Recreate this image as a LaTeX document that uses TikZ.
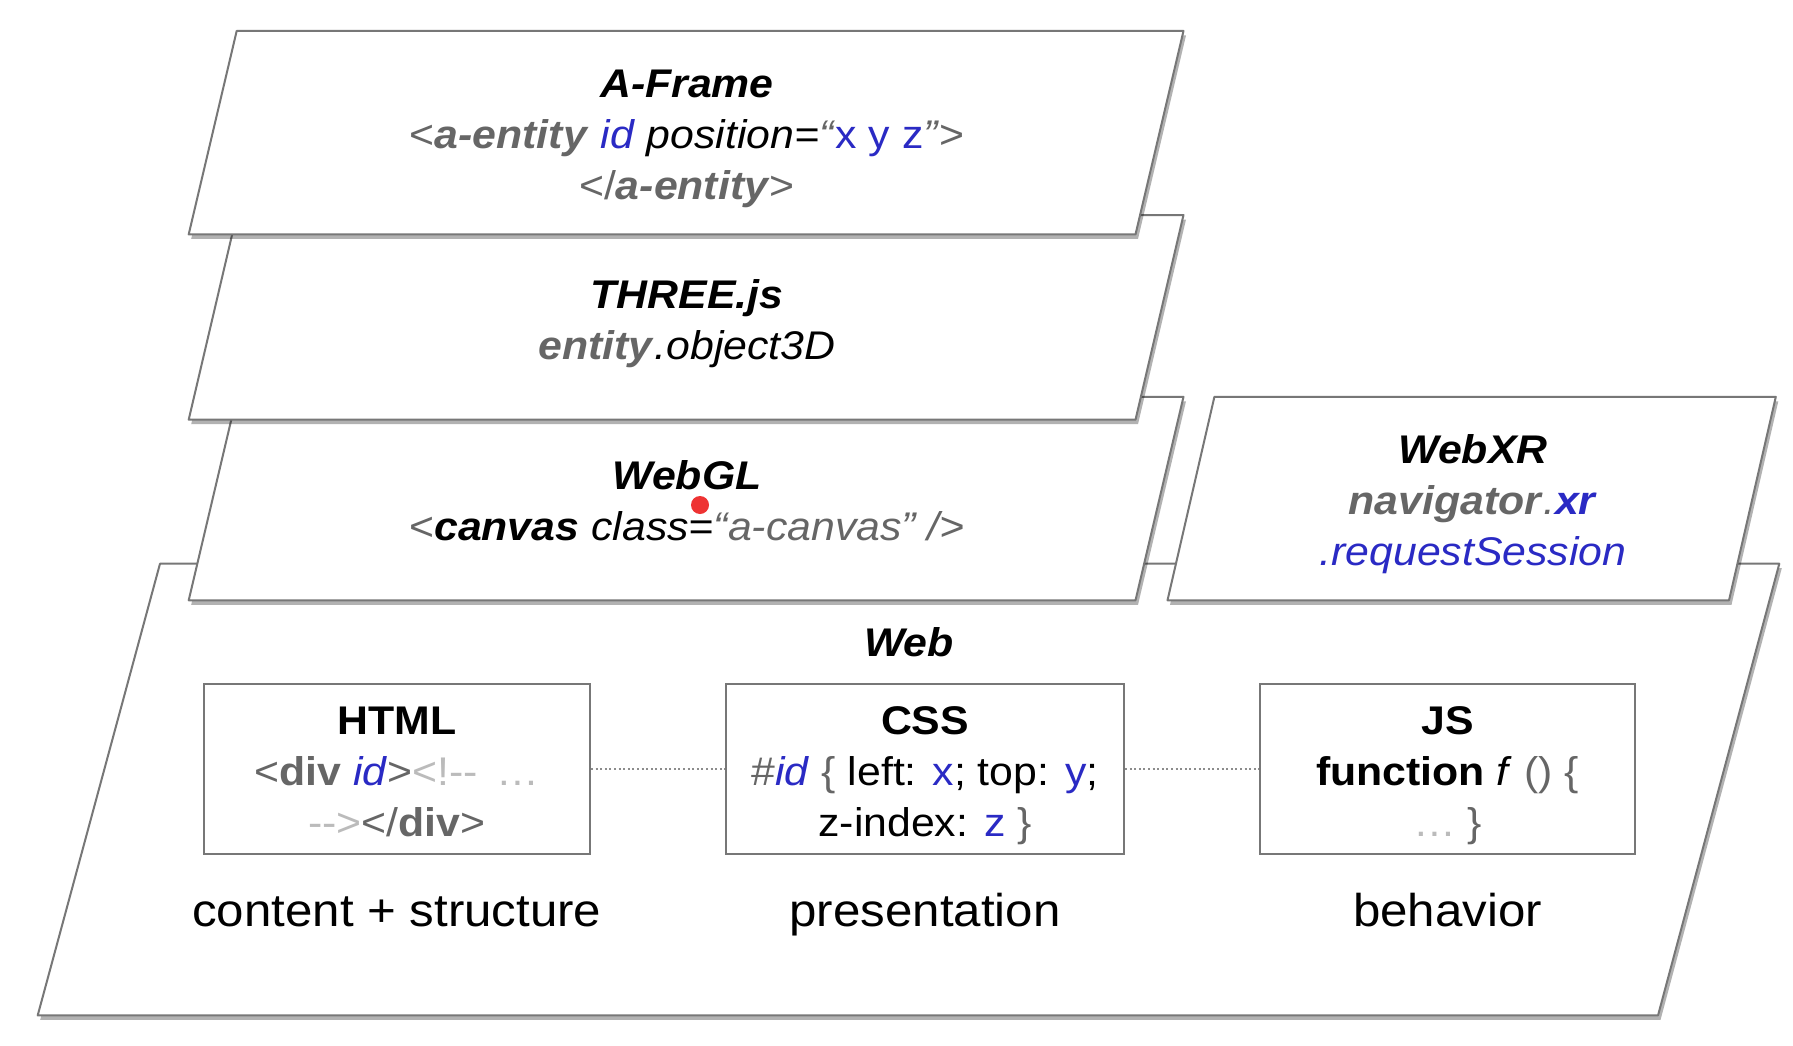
\documentclass[tikz,border=0pt]{standalone}
\usepackage{fontspec}
\setmainfont{Liberation Sans}[FakeStretch=1.07, Ligatures=TeXOff]
\usetikzlibrary{shadows}
\definecolor{tagg}{HTML}{666666}
\definecolor{comg}{HTML}{BBBBBB}
\definecolor{codeb}{HTML}{2A2AC4}
\definecolor{edgeg}{HTML}{777777}
\definecolor{dotred}{HTML}{EE3333}
\definecolor{linkg}{HTML}{8C8C8C}
\newcommand\tg[1]{\textcolor{tagg}{#1}}
\newcommand\cm[1]{\textcolor{comg}{#1}}
\newcommand\bl[1]{\textcolor{codeb}{#1}}
\newcommand\bi[1]{\textbf{\textit{#1}}}
\begin{document}
\begin{tikzpicture}[x=1pt,y=-1pt,
  layer/.style={draw=edgeg, line width=2pt, fill=white, line join=round,
    drop shadow={shadow xshift=2.5pt, shadow yshift=-4.5pt, opacity=0.3, fill=black}},
  codebox/.style={draw=edgeg, line width=2pt, fill=white, minimum height=170.4pt, inner sep=0pt},
  txt/.style={align=center, font=\fontsize{40}{51}\selectfont, inner sep=0pt},
  lbl/.style={font=\fontsize{46}{52}\selectfont, inner sep=0pt, anchor=base},
  link/.style={draw=linkg, line width=2.6pt, dash pattern=on 2pt off 2.6pt}
]
\useasboundingbox (0,0) rectangle (1793,1046);
\fill[white] (0,0) rectangle (1793,1046);

% Web layer
\path[layer] (160,563.7) -- (1779.3,563.7) -- (1658,1015.4) -- (37.7,1015.4) -- cycle;
% WebGL and WebXR
\path[layer] (236.7,396.8) -- (1183.5,396.8) -- (1135.5,600.3) -- (188.7,600.3) -- cycle;
\path[layer] (1214.4,396.8) -- (1775.8,396.8) -- (1729,600.3) -- (1167.5,600.3) -- cycle;
% THREE.js
\path[layer] (236.7,215) -- (1183.5,215) -- (1135.5,419.7) -- (188.7,419.7) -- cycle;
% A-Frame
\path[layer] (236.7,30.9) -- (1183.5,30.9) -- (1135.5,234.4) -- (188.7,234.4) -- cycle;

% layer texts
\node[txt] (aframe) at (687,138.4) {\bi{A-Frame}\\
  \tg{<\bi{a-entity}} \bl{\textit{id}} \textit{position=}\tg{\textit{“}}\bl{x y z}\tg{\textit{”}>}\\
  \tg{</\bi{a-entity}>}};
\node[txt] (three) at (687,323.6) {\bi{THREE.js}\\
  \tg{\bi{entity}}\textit{.object3D}};
\node[txt] (webgl) at (687,501) {\bi{WebGL}\\
  \tg{<}\bi{canvas} \textit{class=}\tg{\textit{“a-canvas” />}}};
\node[txt] (webxr) at (1473,504.2) {\bi{WebXR}\\
  \tg{\bi{navigator}\textit{.}}\bl{\bi{xr}}\\
  \bl{\textit{.requestSession}}};
\node[txt] (web) at (909,642.5) {\bi{Web}};

% code boxes
\node[codebox, minimum width=386.5pt] (html) at (396.8,769) {};
\node[codebox, minimum width=398pt] (css) at (925,769) {};
\node[codebox, minimum width=375pt] (js) at (1447.5,769) {};

\node[txt] (htmlt) at (396.8,772.4) {\textbf{HTML}\\
  \tg{<\textbf{div}} \bl{\textit{id}}\tg{>}\cm{<!-- \,…}\\
  \cm{-->}\tg{</\textbf{div}>}};
\node[txt] (csst) at (925,776) {\textbf{CSS}\\
  \tg{\#}\bl{\textit{id}} \tg{\{} left: \bl{x}; top: \bl{y};\\
  z-index: \bl{z} \tg{\}}};
\node[txt] (jst) at (1447.5,776) {\textbf{JS}\\
  \textbf{function} \textit{f} \tg{() \{}\\
  \cm{…} \tg{\}}};

\draw[link] (html.east) -- (css.west);
\draw[link] (css.east) -- (js.west);

\node[lbl] (lhtml) at (396.8,926) {content + structure};
\node[lbl] (lcss) at (925,926) {presentation};
\node[lbl] (ljs) at (1447.5,926) {behavior};

\fill[dotred] (700,505) circle[radius=9];
\end{tikzpicture}
\end{document}
